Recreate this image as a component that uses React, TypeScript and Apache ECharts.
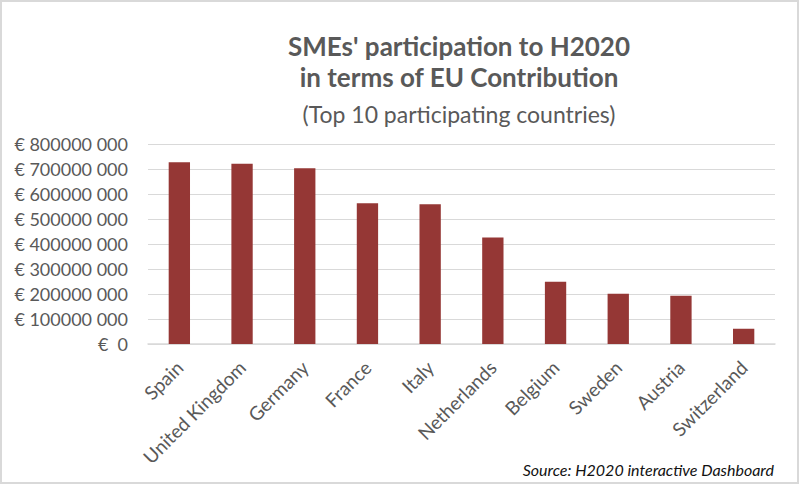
import React, { useEffect, useRef } from "react";
import * as echarts from "echarts";

const categories = [
  "Spain",
  "United Kingdom",
  "Germany",
  "France",
  "Italy",
  "Netherlands",
  "Belgium",
  "Sweden",
  "Austria",
  "Switzerland",
];
const contribution = [
  727000000, 721000000, 703000000, 563000000, 559000000, 426000000, 249000000,
  201000000, 193000000, 61000000,
];
const titleLines = ["SMEs' participation to H2020", "in terms of EU Contribution"];
const subtitle = "(Top 10 participating countries)";
const source = "Source: H2020 interactive Dashboard";

const fmt = (v: number) => {
  if (v === 0) return "€  0";
  return "€ " + Math.floor(v / 1000) + " 000";
};

export default function App() {
  const ref = useRef<HTMLDivElement>(null);
  useEffect(() => {
    document.body.style.margin = "0";
    const chart = echarts.init(ref.current!, null, { renderer: "svg" });
    const gray = "#595959";
    chart.setOption({
      animation: false,
      backgroundColor: "#ffffff",
      grid: { left: 148, right: 25, top: 144, bottom: 143, containLabel: false },
      xAxis: {
        type: "category",
        data: categories,
        axisLine: { lineStyle: { color: "#d9d9d9", width: 1.5 } },
        axisTick: { show: false },
        axisLabel: {
          interval: 0,
          rotate: 45,
          margin: 20,
          color: gray,
          fontFamily: "Lato",
          fontSize: 19,
        },
      },
      yAxis: {
        type: "value",
        min: 0,
        max: 800000000,
        interval: 100000000,
        axisLine: { show: false },
        axisTick: { show: false },
        splitLine: { lineStyle: { color: "#d9d9d9", width: 1.2 } },
        axisLabel: {
          formatter: fmt,
          margin: 20,
          color: gray,
          fontFamily: "Lato",
          fontSize: 18,
        },
      },
      series: [
        {
          type: "bar",
          data: contribution,
          barWidth: "34%",
          itemStyle: { color: "#953735" },
        },
      ],
      graphic: [
        {
          type: "rect",
          shape: { x: 1, y: 1, width: 797, height: 482 },
          style: { fill: "none", stroke: "#d9d9d9", lineWidth: 2 },
          silent: true,
        },
        {
          type: "text",
          x: 459,
          y: 46,
          style: {
            text: titleLines[0],
            fill: gray,
            font: "bold 26px Lato",
            textAlign: "center",
            textVerticalAlign: "middle",
          },
        },
        {
          type: "text",
          x: 459,
          y: 77,
          style: {
            text: titleLines[1],
            fill: gray,
            font: "bold 26px Lato",
            textAlign: "center",
            textVerticalAlign: "middle",
          },
        },
        {
          type: "text",
          x: 459,
          y: 114,
          style: {
            text: subtitle,
            fill: gray,
            font: "23px Lato",
            textAlign: "center",
            textVerticalAlign: "middle",
          },
        },
        {
          type: "text",
          x: 774,
          y: 469,
          style: {
            text: source,
            fill: "#111111",
            font: "italic 16px Lato",
            textAlign: "right",
            textVerticalAlign: "middle",
          },
        },
      ],
    });
    return () => chart.dispose();
  }, []);
  return <div ref={ref} style={{ width: 800, height: 487 }} />;
}
